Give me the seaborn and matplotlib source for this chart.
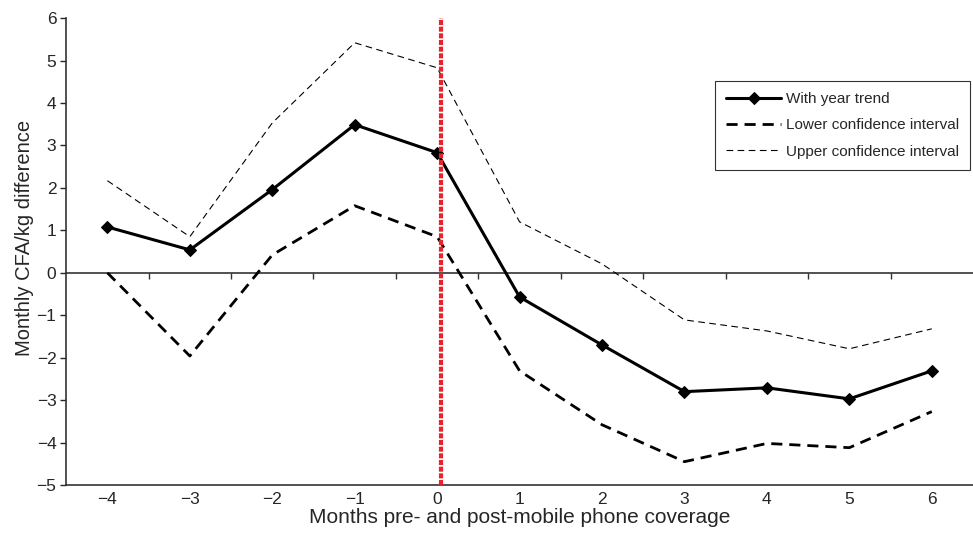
import matplotlib
matplotlib.use('Agg')
import pandas as pd
import numpy as np
import matplotlib.pyplot as plt
import seaborn as sns

# months relative to mobile phone coverage
months = [-4, -3, -2, -1, 0, 1, 2, 3, 4, 5, 6]
year_trend = [1.08, 0.54, 1.96, 3.49, 2.83, -0.57, -1.70, -2.80, -2.71, -2.97, -2.31]
lower_ci = [0.0, -1.96, 0.42, 1.58, 0.85, -2.31, -3.58, -4.45, -4.02, -4.12, -3.27]
upper_ci = [2.17, 0.85, 3.53, 5.42, 4.83, 1.20, 0.21, -1.11, -1.37, -1.79, -1.32]
y_ticks = [-5, -4, -3, -2, -1, 0, 1, 2, 3, 4, 5, 6]

df = pd.DataFrame({'month': months, 'trend': year_trend,
                   'lower': lower_ci, 'upper': upper_ci})

sns.set_style('white')
plt.rcParams['font.family'] = ['Liberation Sans', 'DejaVu Sans']
plt.rcParams['axes.unicode_minus'] = True

fig = plt.figure(figsize=(9.73, 5.33), dpi=100)
ax = fig.add_axes([0.068, 0.09, 0.932, 0.876])

sns.lineplot(data=df, x='month', y='trend', ax=ax, color='black', lw=2.2,
             marker='D', markersize=6.5, markeredgecolor='black', label='With year trend')
sns.lineplot(data=df, x='month', y='lower', ax=ax, color='black', lw=2,
             linestyle=(0, (4, 2.5)), label='Lower confidence interval')
sns.lineplot(data=df, x='month', y='upper', ax=ax, color='black', lw=0.8,
             linestyle=(0, (6, 4)), label='Upper confidence interval')

# coverage start
ax.axvline(0.05, color='#e8232a', lw=3, linestyle=(0, (1.2, 0.4)), zorder=5)

ax.set_xlim(-4.5, 6.5)
ax.set_ylim(-5, 6)
ax.set_yticks(y_ticks)
ax.set_xticks(months)
ax.tick_params(axis='x', length=0, labelsize=12.5, pad=5)
ax.tick_params(axis='y', direction='out', length=4, width=1, left=True, labelsize=12.5, pad=3)
for s in ['top', 'right']:
    ax.spines[s].set_visible(False)
for s in ['left', 'bottom']:
    ax.spines[s].set_color('#333333')
    ax.spines[s].set_linewidth(1.2)

# zero line with category ticks between months
zero_ax = ax.secondary_xaxis(0, transform=ax.transData)
zero_ax.set_xticks(np.array(months[:-1]) + 0.5)
zero_ax.set_xticklabels([])
zero_ax.tick_params(direction='out', length=4, width=1, color='#333333')
zero_ax.spines['bottom'].set_color('#333333')
zero_ax.spines['bottom'].set_linewidth(1.2)

ax.set_xlabel('Months pre- and post-mobile phone coverage', fontsize=15, labelpad=1)
ax.set_ylabel('Monthly CFA/kg difference', fontsize=14.5)
ax.yaxis.set_label_coords(-0.036, 0.53)

leg = ax.legend(loc='upper right', bbox_to_anchor=(0.997, 0.866), borderaxespad=0,
                fontsize=11, frameon=True, fancybox=False, edgecolor='black',
                handlelength=3.6, handletextpad=0.3, borderpad=0.75, labelspacing=0.8)
leg.get_frame().set_linewidth(0.8)

fig.savefig('out.png', dpi=100)
